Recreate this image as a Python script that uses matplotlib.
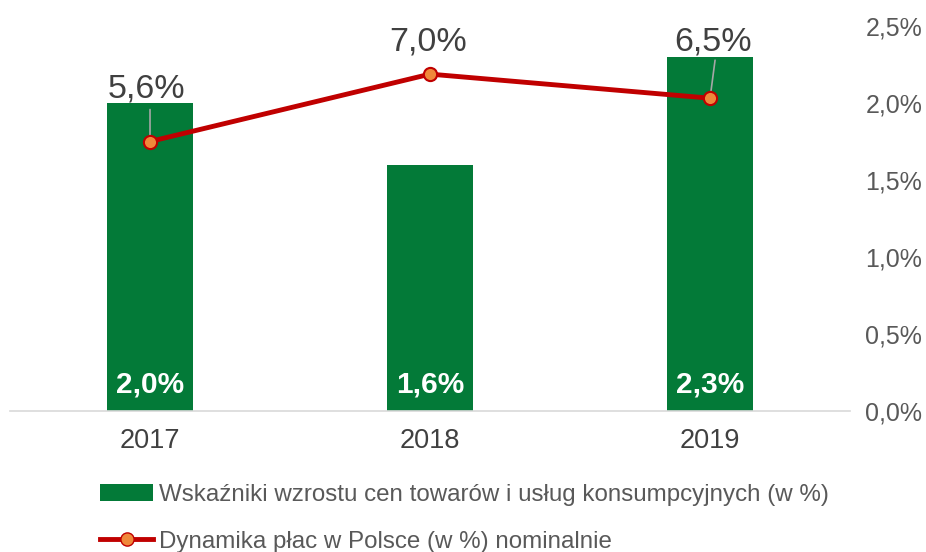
import matplotlib.pyplot as plt
import numpy as np
from matplotlib.patches import Patch
from matplotlib.lines import Line2D

years = ["2017", "2018", "2019"]
cpi = [2.0, 1.6, 2.3]
wages = [5.6, 7.0, 6.5]
cpi_labels = ["2,0%", "1,6%", "2,3%"]
wage_labels = ["5,6%", "7,0%", "6,5%"]
yticks = [0.0, 0.5, 1.0, 1.5, 2.0, 2.5]
ytick_labels = ["0,0%", "0,5%", "1,0%", "1,5%", "2,0%", "2,5%"]
legend_bar = "Wskaźniki wzrostu cen towarów i usług konsumpcyjnych (w %)"
legend_line = "Dynamika płac w Polsce (w %) nominalnie"

plt.rcParams['font.family'] = ['Liberation Sans', 'DejaVu Sans']

fig = plt.figure(figsize=(9.26, 5.52), dpi=100)
ax = fig.add_axes([0.0108, 0.2554, 0.9072, 0.6975])
ax2 = ax.twinx()

x = np.arange(len(years))
ax.bar(x, cpi, width=0.31, color="#037A38", zorder=2)
ax.set_xlim(-0.5, 2.5)
ax.set_ylim(0, 2.5)
ax.yaxis.tick_right()
ax.set_yticks(yticks)
ax.set_yticklabels(ytick_labels, fontsize=18, color="#595959")
ax.tick_params(axis='y', length=0, pad=11)
ax.set_xticks(x)
ax.set_xticklabels(years, fontsize=19.5, color="#404040")
ax.tick_params(axis='x', length=0, pad=12)
for s in ["top", "left", "right"]:
    ax.spines[s].set_visible(False)
ax.spines["bottom"].set_color("#D9D9D9")
ax.spines["bottom"].set_linewidth(1.2)

for xi, lab in zip(x, cpi_labels):
    ax.text(xi, 0.17, lab, ha='center', va='center', fontsize=21.5,
            fontweight='bold', color='white', zorder=3)

ax2.set_ylim(0, 8)
ax2.axis('off')
ax2.plot(x, wages, color="#C00000", lw=3.5, marker='o', markersize=9.5,
         markerfacecolor="#F0883A", markeredgecolor="#C00000",
         markeredgewidth=1.5, zorder=4)

offsets = [(-4, 53), (-2, 32), (3, 56)]
for xi, w, lab, off in zip(x, wages, wage_labels, offsets):
    ax2.annotate(lab, (xi, w), xytext=off, textcoords='offset pixels',
                 ha='center', va='center', fontsize=24.5, color="#404040")
# leader lines
ax2.annotate("", (x[0], wages[0]), xytext=(0, 32), textcoords='offset pixels',
             arrowprops=dict(arrowstyle='-', color='#A6A6A6', lw=1.2,
                             shrinkA=0, shrinkB=0), zorder=3)
ax2.annotate("", (x[2], wages[2]), xytext=(5, 38), textcoords='offset pixels',
             arrowprops=dict(arrowstyle='-', color='#A6A6A6', lw=1.2,
                             shrinkA=0, shrinkB=0), zorder=3)

handles = [Patch(facecolor="#037A38"),
           Line2D([0], [0], color="#C00000", lw=3.5, marker='o', markersize=9.5,
                  markerfacecolor="#F0883A", markeredgecolor="#C00000")]
fig.legend(handles, [legend_bar, legend_line], loc='upper left',
           bbox_to_anchor=(0.0976, 0.14), frameon=False, fontsize=17.4,
           labelcolor="#595959", handlelength=2.2, handleheight=0.7,
           handletextpad=0.25, labelspacing=1.0, borderaxespad=0)

fig.savefig("out.png", dpi=100)
